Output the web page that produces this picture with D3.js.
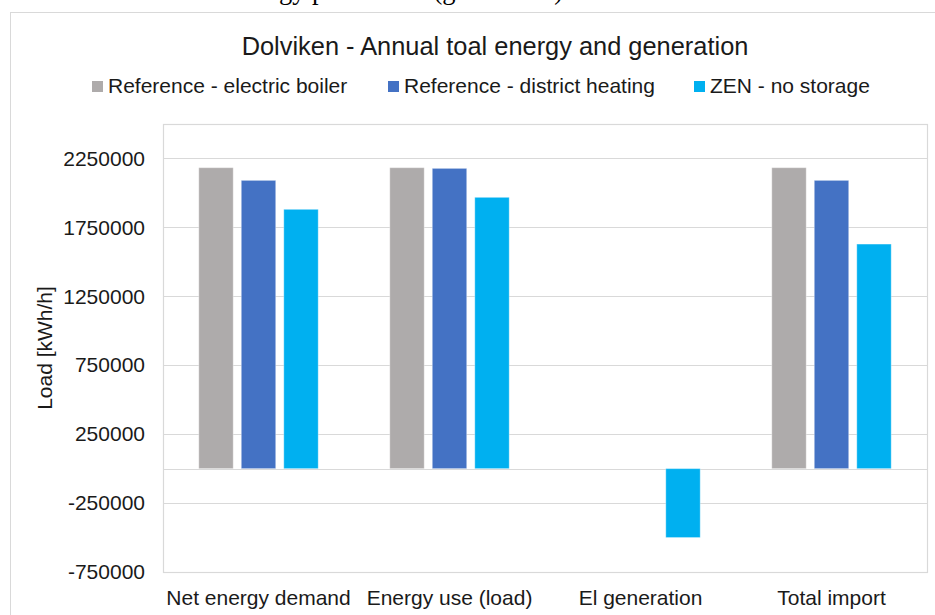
<!DOCTYPE html>
<html>
<head>
<meta charset="utf-8">
<script src="https://cdn.jsdelivr.net/npm/d3@7"></script>
<style>
  html, body { margin: 0; padding: 0; background: #ffffff; }
  svg { display: block; }
  text { font-family: "Liberation Sans", Arial, sans-serif; fill: #1a1a1a; }
</style>
</head>
<body>
<svg id="chart" width="935" height="615"></svg>
<script>
// Annual totals per category (kWh/h)
const categories = ["Net energy demand", "Energy use (load)", "El generation", "Total import"];
const seriesNames = ["Reference - electric boiler", "Reference - district heating", "ZEN - no storage"];
const electricBoiler = [2183000, 2183000, 0, 2183000];
const districtHeating = [2091000, 2178000, 0, 2091000];
const zenNoStorage = [1881000, 1968000, -500000, 1629000];
const seriesColors = ["#AEABAB", "#4472C4", "#00B0F0"];
const yTicks = [-750000, -250000, 250000, 750000, 1250000, 1750000, 2250000];
const yDomain = [-750000, 2500000];

const seriesValues = [electricBoiler, districtHeating, zenNoStorage];

const svg = d3.select("#chart");
const W = 935, H = 615;
const plot = { left: 163, right: 927, top: 124, bottom: 572 };

// Caption line of the surrounding document, only its lower edge shows
svg.append("text")
  .attr("x", 563).attr("y", -1)
  .attr("text-anchor", "end")
  .style("font-family", "'Liberation Serif', 'Times New Roman', serif")
  .style("font-size", "26.5px")
  .style("fill", "#000")
  .text("Annual total load and energy production (generation)");

// Chart area
svg.append("rect")
  .attr("x", 10.5).attr("y", 12.5)
  .attr("width", W + 20).attr("height", H + 20)
  .attr("fill", "#ffffff")
  .attr("stroke", "#D9D9D9").attr("stroke-width", 1);

// Scales
const x = d3.scaleBand().domain(categories).range([plot.left, plot.right]).paddingInner(0).paddingOuter(0);
const groupWidth = 127.5;
const xSeries = d3.scaleBand().domain(d3.range(seriesNames.length))
  .range([-groupWidth / 2, groupWidth / 2]).paddingInner(0.19).paddingOuter(0.095);
const y = d3.scaleLinear().domain(yDomain).range([plot.bottom, plot.top]);

// Gridlines + zero line
const grid = svg.append("g").attr("class", "grid");
grid.selectAll("line.g")
  .data(yTicks.concat([0]))
  .join("line")
  .attr("class", "g")
  .attr("x1", plot.left).attr("x2", plot.right)
  .attr("y1", d => Math.round(y(d)) + 0.5).attr("y2", d => Math.round(y(d)) + 0.5)
  .attr("stroke", "#D9D9D9").attr("stroke-width", 1.2);

// Plot area border
svg.append("rect")
  .attr("x", plot.left + 0.5).attr("y", Math.round(y(yDomain[1])) + 0.5)
  .attr("width", plot.right - plot.left)
  .attr("height", Math.round(y(yDomain[0])) - Math.round(y(yDomain[1])))
  .attr("fill", "none")
  .attr("stroke", "#D9D9D9").attr("stroke-width", 1.2);

// Bars
const barData = [];
categories.forEach((c, ci) => {
  seriesValues.forEach((vals, si) => {
    if (vals[ci] !== 0) barData.push({ category: c, series: si, value: vals[ci] });
  });
});

svg.append("g").attr("class", "bars")
  .selectAll("rect")
  .data(barData)
  .join("rect")
  .attr("x", d => x(d.category) + x.bandwidth() / 2 + xSeries(d.series))
  .attr("width", xSeries.bandwidth())
  .attr("y", d => Math.min(y(d.value), y(0)))
  .attr("height", d => Math.abs(y(d.value) - y(0)))
  .attr("fill", d => seriesColors[d.series])
  .attr("stroke", "#ffffff").attr("stroke-opacity", 0.35).attr("stroke-width", 1);

// Y axis labels (plain hyphen for negatives)
const yAxis = d3.axisLeft(y).tickValues(yTicks).tickSize(0).tickPadding(0)
  .tickFormat(d => (d < 0 ? "-" : "") + Math.abs(d));
const yg = svg.append("g")
  .attr("transform", `translate(${145},0)`)
  .call(yAxis);
yg.select(".domain").remove();
yg.selectAll("text")
  .style("font-family", "'Liberation Sans', Arial, sans-serif")
  .style("font-size", "21px")
  .attr("fill", "#1a1a1a");

// Category labels
const xAxis = d3.axisBottom(x).tickSize(0).tickPadding(0);
const xg = svg.append("g")
  .attr("transform", `translate(0,${589})`)
  .call(xAxis);
xg.select(".domain").remove();
xg.selectAll("text")
  .attr("dy", "0.76em")
  .style("font-family", "'Liberation Sans', Arial, sans-serif")
  .style("font-size", "21px")
  .attr("fill", "#1a1a1a");

// Axis title
svg.append("text")
  .attr("transform", `translate(52,${(plot.top + plot.bottom) / 2}) rotate(-90)`)
  .attr("text-anchor", "middle")
  .style("font-size", "21px")
  .text("Load [kWh/h]");

// Title
svg.append("text")
  .attr("x", 495).attr("y", 55)
  .attr("text-anchor", "middle")
  .style("font-size", "25.4px")
  .text("Dolviken - Annual toal energy and generation");

// Legend
const legendX = [92, 388, 694];
const legend = svg.append("g").attr("class", "legend");
seriesNames.forEach((name, i) => {
  const g = legend.append("g").attr("transform", `translate(${legendX[i]},0)`);
  g.append("rect")
    .attr("x", 0).attr("y", 81)
    .attr("width", 11).attr("height", 11)
    .attr("fill", seriesColors[i]);
  g.append("text")
    .attr("x", 16).attr("y", 93)
    .style("font-size", "21px")
    .text(name);
});
</script>
</body>
</html>
